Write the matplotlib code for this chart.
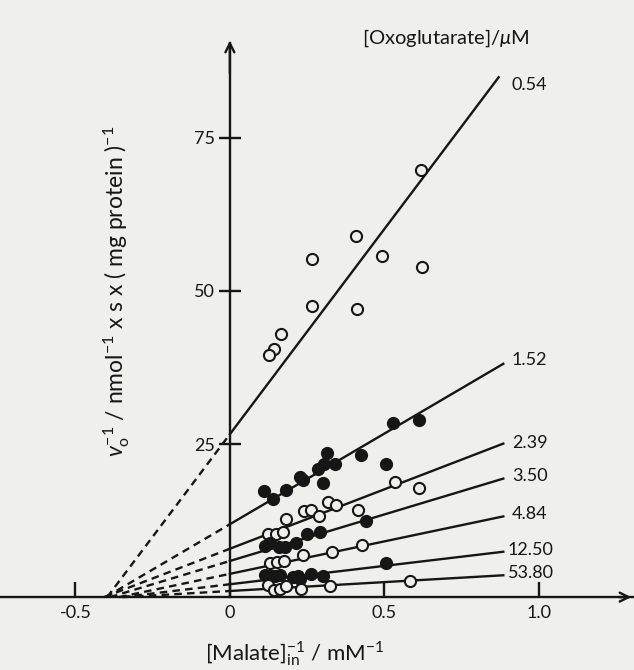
import matplotlib.pyplot as plt
import numpy as np

plt.rcParams['font.family'] = ['Lato', 'DejaVu Sans']
plt.rcParams['mathtext.fontset'] = 'custom'
plt.rcParams['mathtext.rm'] = 'Lato'
plt.rcParams['mathtext.it'] = 'Lato:italic'

# oxoglutarate concentrations (uM), one fitted line per concentration
conc_labels = ['0.54', '1.52', '2.39', '3.50', '4.84', '12.50', '53.80']
intercepts = [26.6, 11.9, 7.9, 5.9, 3.8, 2.1, 1.0]
slopes = [67.0, 29.6, 19.4, 15.2, 10.6, 6.0, 2.9]
line_end = [0.87, 0.885, 0.885, 0.885, 0.885, 0.885, 0.885]
filled = [False, True, False, True, False, True, False]

# measured points, 1/[malate] vs 1/v0
x_054 = [0.618, 0.408, 0.265, 0.492, 0.621, 0.265, 0.411, 0.165, 0.142, 0.126]
y_054 = [69.8, 59.0, 55.2, 55.7, 53.9, 47.5, 47.1, 43.0, 40.5, 39.5]
x_152 = [0.111, 0.138, 0.181, 0.227, 0.237, 0.286, 0.304, 0.313, 0.340, 0.300, 0.426, 0.505, 0.527, 0.611]
y_152 = [17.4, 16.1, 17.5, 19.6, 19.1, 21.0, 21.8, 23.5, 21.7, 18.7, 23.2, 21.8, 28.4, 29.0]
x_239 = [0.124, 0.150, 0.172, 0.183, 0.239, 0.262, 0.288, 0.318, 0.343, 0.415, 0.534, 0.613]
y_239 = [10.3, 10.3, 10.7, 12.8, 14.1, 14.2, 13.2, 15.5, 15.1, 14.2, 18.8, 17.8]
x_350 = [0.113, 0.129, 0.160, 0.178, 0.214, 0.250, 0.291, 0.442]
y_350 = [8.3, 8.8, 8.2, 8.2, 8.9, 10.3, 10.7, 12.5]
x_484 = [0.129, 0.151, 0.175, 0.237, 0.329, 0.427]
y_484 = [5.5, 5.8, 5.9, 6.9, 7.4, 8.5]
x_1250 = [0.113, 0.132, 0.146, 0.162, 0.205, 0.221, 0.227, 0.264, 0.302, 0.505]
y_1250 = [3.6, 3.4, 3.4, 3.6, 3.3, 3.4, 2.9, 3.8, 3.4, 5.5]
x_5380 = [0.124, 0.142, 0.162, 0.181, 0.229, 0.324, 0.583]
y_5380 = [2.0, 1.1, 1.4, 1.8, 1.3, 1.8, 2.7]

xs = [x_054, x_152, x_239, x_350, x_484, x_1250, x_5380]
ys = [y_054, y_152, y_239, y_350, y_484, y_1250, y_5380]
label_y = [83.7, 38.7, 25.2, 19.8, 13.6, 7.7, 3.9]

bg = '#efefec'
ink = '#161616'

fig = plt.figure(figsize=(6.34, 6.70), dpi=100, facecolor=bg)
ax = fig.add_axes([0, 0, 1, 1], facecolor=bg)
ax.set_xlim(-0.744, 1.308)
ax.set_ylim(-11.9, 97.5)

for i in range(len(conc_labels)):
    b, m = intercepts[i], slopes[i]
    x0 = -b / m
    ax.plot([x0, 0], [0, b], ls=(0, (3.2, 2.2)), color=ink, lw=1.7, zorder=2)
    xe = line_end[i]
    ax.plot([0, xe], [b, b + m * xe], color=ink, lw=1.7, zorder=2)
    fc = ink if filled[i] else bg
    ax.plot(xs[i], ys[i], 'o', ms=8, mfc=fc, mec=ink, mew=1.5, ls='none', zorder=3)
    lx = 0.90 if len(conc_labels[i]) > 4 else 0.913
    ax.text(lx, label_y[i], conc_labels[i], fontsize=13, color=ink, va='center', ha='left')

ax.text(0.427, 91.3, r'[Oxoglutarate]/$\mu$M', fontsize=14.5, color=ink, va='center', ha='left')

# axes through the origin
for s in ['top', 'right']:
    ax.spines[s].set_visible(False)
ax.spines['left'].set_position(('data', 0))
ax.spines['bottom'].set_position(('data', 0))
ax.spines['left'].set_bounds(0, 90.5)
for s in ['left', 'bottom']:
    ax.spines[s].set_linewidth(1.7)
    ax.spines[s].set_color(ink)
ax.annotate('', xy=(1.308, 0), xytext=(1.25, 0),
            arrowprops=dict(arrowstyle='->', color=ink, lw=1.7, mutation_scale=16))
ax.annotate('', xy=(0, 91.3), xytext=(0, 85),
            arrowprops=dict(arrowstyle='->', color=ink, lw=1.7, mutation_scale=16))

ax.set_xticks([-0.5, 0, 0.5, 1.0])
ax.set_xticklabels(['-0.5', '0', '0.5', '1.0'])
ax.set_yticks([25, 50, 75])
ax.set_yticklabels(['25', '50', '75'])
ax.tick_params(axis='x', direction='in', length=11, width=1.7, pad=6, labelsize=13, colors=ink)
ax.tick_params(axis='y', direction='inout', length=16, width=1.7, pad=3, labelsize=13, colors=ink)

ax.text(-0.366, 50, r'$v_{\mathrm{o}}^{-1}$ / nmol$^{-1}$ x s x ( mg protein )$^{-1}$',
        rotation=90, fontsize=16.5, color=ink, ha='center', va='center')
ax.text(0.21, -9.3, r'[Malate]$_{\mathrm{in}}^{-1}$ / mM$^{-1}$',
        fontsize=16, color=ink, ha='center', va='center')

fig.savefig('out.png', dpi=100, facecolor=bg)
